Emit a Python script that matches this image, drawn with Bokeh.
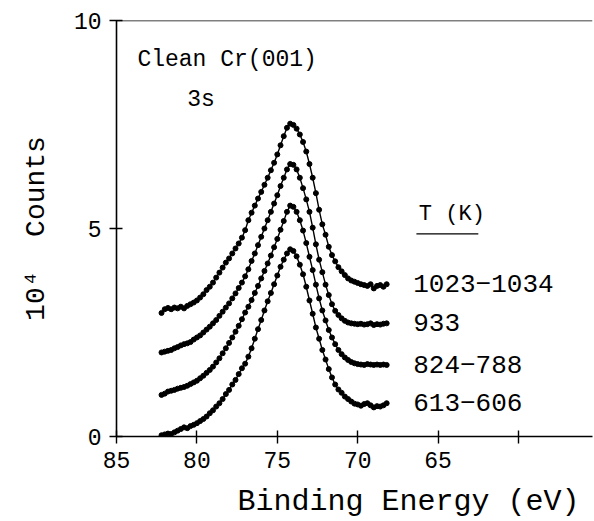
from bokeh.plotting import figure
from bokeh.models import Range1d, FixedTicker, Label, Span, ColumnDataSource
from bokeh.embed import file_html
from bokeh.resources import INLINE

# ---------------- data ----------------
energy = [82.2, 82.0, 81.8, 81.6, 81.4, 81.2, 81.0, 80.8, 80.6, 80.4,
          80.2, 80.0, 79.8, 79.6, 79.4, 79.2, 79.0, 78.8, 78.6, 78.4,
          78.2, 78.0, 77.8, 77.6, 77.4, 77.2, 77.0, 76.8, 76.6, 76.4,
          76.2, 76.0, 75.8, 75.6, 75.4, 75.2, 75.0, 74.8, 74.6, 74.4,
          74.2, 74.0, 73.8, 73.6, 73.4, 73.2, 73.0, 72.8, 72.6, 72.4,
          72.2, 72.0, 71.8, 71.6, 71.4, 71.2, 71.0, 70.8, 70.6, 70.4,
          70.2, 70.0, 69.8, 69.6, 69.4, 69.2, 69.0, 68.8, 68.6, 68.4,
          68.2]

counts_613_606 = [0.03, 0.05, 0.07, 0.06, 0.10, 0.14, 0.18, 0.22, 0.20, 0.25,
                  0.28, 0.32, 0.37, 0.42, 0.48, 0.56, 0.63, 0.72, 0.80, 0.90,
                  1.02, 1.12, 1.25, 1.36, 1.50, 1.64, 1.75, 1.92, 2.12, 2.35,
                  2.58, 2.80, 3.03, 3.25, 3.45, 3.66, 3.87, 4.08, 4.25, 4.40,
                  4.50, 4.46, 4.33, 4.13, 3.90, 3.60, 3.27, 2.95, 2.62, 2.35,
                  2.08, 1.85, 1.62, 1.42, 1.25, 1.13, 1.05, 0.96, 0.90, 0.84,
                  0.79, 0.77, 0.74, 0.78, 0.80, 0.75, 0.70, 0.73, 0.72, 0.75,
                  0.80]

counts_824_788 = [1.00, 1.03, 1.08, 1.10, 1.12, 1.15, 1.17, 1.19, 1.22, 1.26,
                  1.30, 1.34, 1.40, 1.46, 1.53, 1.60, 1.68, 1.78, 1.88, 2.00,
                  2.12, 2.25, 2.38, 2.52, 2.66, 2.82, 2.98, 3.12, 3.28, 3.45,
                  3.62, 3.80, 3.98, 4.16, 4.35, 4.55, 4.75, 4.97, 5.18, 5.40,
                  5.55, 5.52, 5.40, 5.20, 4.95, 4.65, 4.32, 4.00, 3.65, 3.32,
                  3.03, 2.79, 2.56, 2.38, 2.22, 2.08, 1.98, 1.90, 1.84, 1.79,
                  1.76, 1.74, 1.73, 1.72, 1.74, 1.73, 1.72, 1.73, 1.72, 1.73,
                  1.72]

counts_933 = [2.02, 2.04, 2.06, 2.08, 2.12, 2.15, 2.19, 2.22, 2.24, 2.27,
              2.33, 2.38, 2.43, 2.50, 2.57, 2.64, 2.72, 2.80, 2.90, 3.00,
              3.10, 3.20, 3.32, 3.44, 3.57, 3.70, 3.85, 4.02, 4.22, 4.40,
              4.60, 4.80, 5.00, 5.20, 5.40, 5.60, 5.80, 6.02, 6.22, 6.42,
              6.55, 6.53, 6.42, 6.22, 5.97, 5.70, 5.40, 5.02, 4.62, 4.25,
              3.95, 3.65, 3.40, 3.18, 3.02, 2.92, 2.84, 2.78, 2.74, 2.72,
              2.71, 2.70, 2.71, 2.69, 2.70, 2.72, 2.68, 2.70, 2.69, 2.71,
              2.72]

counts_1023_1034 = [2.97, 3.06, 3.09, 3.06, 3.10, 3.08, 3.12, 3.08, 3.14, 3.18,
                    3.22, 3.27, 3.34, 3.42, 3.52, 3.60, 3.70, 3.82, 3.94, 4.06,
                    4.18, 4.28, 4.40, 4.52, 4.64, 4.78, 4.96, 5.20, 5.38, 5.55,
                    5.72, 5.88, 6.05, 6.22, 6.40, 6.58, 6.78, 7.00, 7.22, 7.42,
                    7.52, 7.49, 7.40, 7.26, 7.08, 6.85, 6.55, 6.22, 5.85, 5.45,
                    5.10, 4.85, 4.56, 4.36, 4.21, 4.07, 3.97, 3.88, 3.80, 3.75,
                    3.72, 3.69, 3.66, 3.64, 3.62, 3.66, 3.56, 3.62, 3.64, 3.60,
                    3.66]

series_labels = ["613\u2212606", "824\u2212788", "933", "1023\u22121034"]
series_values = [counts_613_606, counts_824_788, counts_933, counts_1023_1034]

x_ticks = [85, 80, 75, 70, 65, 60]
x_tick_labels = {85: "85", 80: "80", 75: "75", 70: "70", 65: "65", 60: ""}
y_ticks = [0, 5, 10]

NBSP = "\u00a0"
# leading no-break spaces shift the (centred) axis title to the right, as in the original
x_title = NBSP * 6 + "Binding Energy (eV)"
y_title = "10\u2074" + NBSP * 2 + "Counts"

FONT = "Liberation Mono"

# ---------------- figure ----------------
p = figure(width=594, height=521, output_backend="svg", toolbar_location=None,
           x_range=Range1d(85, 55.4), y_range=Range1d(0, 10),
           min_border_left=116, min_border_right=2, min_border_top=20,
           min_border_bottom=85)
p.xgrid.visible = False
p.ygrid.visible = False
p.outline_line_color = None
p.background_fill_color = "white"
p.border_fill_color = "white"

for ax in (p.xaxis[0], p.yaxis[0]):
    ax.axis_line_width = 1.6
    ax.axis_line_color = "black"
    ax.major_tick_line_width = 1.4
    ax.major_tick_line_color = "black"
    ax.major_tick_in = 6
    ax.major_tick_out = 7
    ax.minor_tick_line_color = None
    ax.major_label_text_font = FONT
    ax.major_label_text_font_size = "23px"
    ax.major_label_text_color = "black"
    ax.axis_label_text_font = FONT
    ax.axis_label_text_font_style = "normal"
    ax.axis_label_text_color = "black"

p.xaxis[0].ticker = FixedTicker(ticks=x_ticks)
p.xaxis[0].major_label_overrides = x_tick_labels
p.xaxis[0].major_label_standoff = 8
p.xaxis[0].axis_label = x_title
p.xaxis[0].axis_label_text_font_size = "30px"
p.xaxis[0].axis_label_standoff = 14

p.yaxis[0].ticker = FixedTicker(ticks=y_ticks)
p.yaxis[0].major_label_standoff = 8
p.yaxis[0].axis_label = y_title
p.yaxis[0].axis_label_text_font_size = "28px"
p.yaxis[0].axis_label_standoff = 19

# top frame line
p.add_layout(Span(location=10, dimension="width", line_color="black", line_width=1.6))

# curves
for vals in series_values:
    src = ColumnDataSource(dict(x=energy, y=vals))
    p.line("x", "y", source=src, line_color="black", line_width=1.4)
    p.scatter("x", "y", source=src, size=5, color="black")

# curve labels (placed at the flat right-hand level of each curve)
for lab, vals in zip(series_labels, series_values):
    p.add_layout(Label(x=66.55, y=vals[-1] + 0.02, text=lab, text_font=FONT,
                       text_font_size="26px", text_baseline="middle",
                       text_align="left", text_color="black"))

p.add_layout(Label(x=66.2, y=5.34, text="T (K)", text_font=FONT,
                   text_font_size="22px", text_baseline="middle", text_color="black"))
p.segment(x0=[66.35], y0=[4.87], x1=[62.5], y1=[4.87], line_color="black", line_width=1.4)

p.add_layout(Label(x=83.7, y=9.04, text="Clean Cr(001)", text_font=FONT,
                   text_font_size="23px", text_baseline="middle", text_color="black"))
p.add_layout(Label(x=80.6, y=8.08, text="3s", text_font=FONT,
                   text_font_size="23px", text_baseline="middle", text_color="black"))

open("out.html", "w").write(file_html(p, INLINE))
